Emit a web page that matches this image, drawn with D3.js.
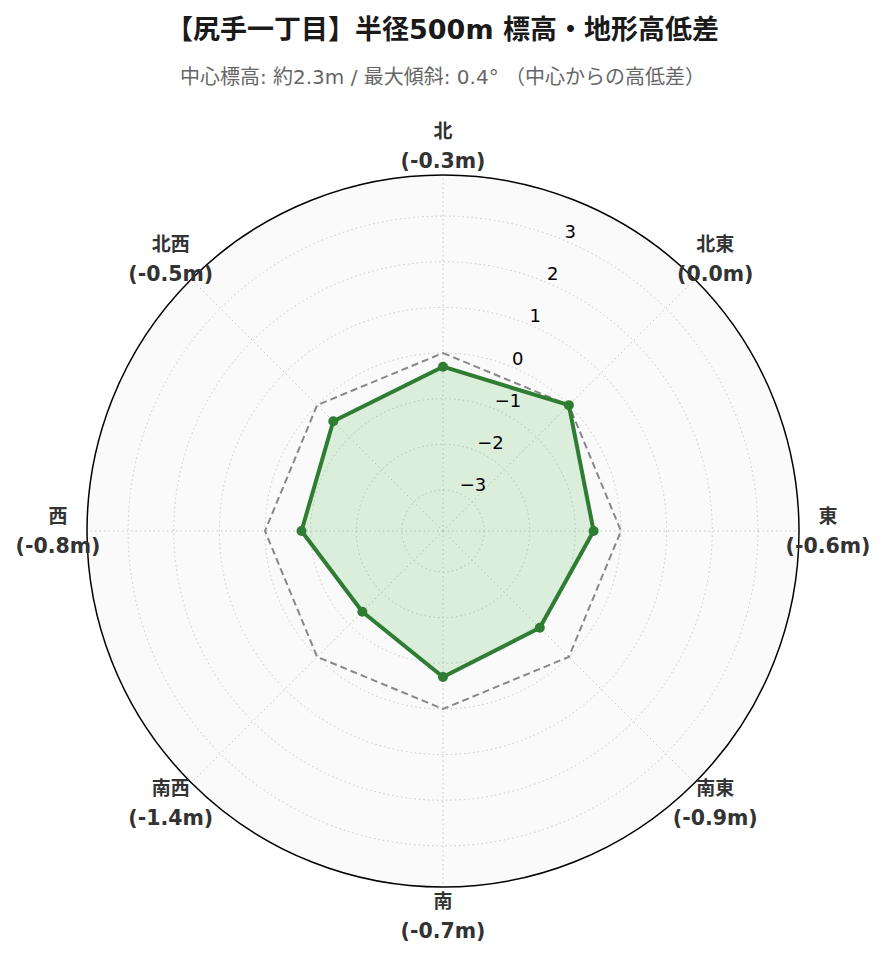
<!DOCTYPE html>
<html>
<head>
<meta charset="utf-8">
<script src="https://cdn.jsdelivr.net/npm/d3@7"></script>
<style>
  body { margin: 0; background: #fff; }
  svg { font-family: "DejaVu Sans", "Noto Sans CJK JP", sans-serif; }
</style>
</head>
<body>
<div id="chart"></div>
<script>
// directions (clockwise from north) and height diff from the centre (m)
const directions = ['北', '北東', '東', '南東', '南', '南西', '西', '北西'];
const heightDiff = [-0.3, 0.0, -0.6, -0.9, -0.7, -1.4, -0.8, -0.5];
const referenceLevel = [0, 0, 0, 0, 0, 0, 0, 0];
const radialTicks = [-3, -2, -1, 0, 1, 2, 3];

const titleText = '【尻手一丁目】半径500m 標高・地形高低差';
const subtitleText = '中心標高: 約2.3m / 最大傾斜: 0.4° （中心からの高低差）';

const drawRadar = () => {
  let width = 885;
  let height = 962;
  let cx = 443;
  let cy = 531;
  let outerR = 356;

  let svg = d3
    .select('#chart')
    .append('svg')
    .attr('width', width)
    .attr('height', height);

  // title + subtitle
  svg
    .append('text')
    .attr('x', width / 2)
    .attr('y', 39)
    .attr('text-anchor', 'middle')
    .attr('font-size', 27)
    .attr('font-weight', 'bold')
    .attr('fill', '#1a1a1a')
    .text(titleText);

  svg
    .append('text')
    .attr('x', width / 2)
    .attr('y', 84)
    .attr('text-anchor', 'middle')
    .attr('font-size', 20)
    .attr('fill', '#666')
    .text(subtitleText);

  let rScale = d3.scaleLinear().domain([-3.9, 3.9]).range([0, outerR]);
  let step = (2 * Math.PI) / directions.length;
  let angleOf = (i) => i * step;

  let g = svg.append('g').attr('transform', `translate(${cx},${cy})`);

  // polar background
  g.append('circle').attr('r', outerR).attr('fill', '#fafafa');

  // grid circles
  g.selectAll('.grid-circle')
    .data(radialTicks)
    .enter()
    .append('circle')
    .attr('class', 'grid-circle')
    .attr('r', (d) => rScale(d))
    .attr('fill', 'none')
    .attr('stroke', '#c8c8c8')
    .attr('stroke-width', 1)
    .attr('stroke-dasharray', '1.5,3');

  // spokes
  g.selectAll('.spoke')
    .data(directions)
    .enter()
    .append('line')
    .attr('class', 'spoke')
    .attr('x1', 0)
    .attr('y1', 0)
    .attr('x2', (d, i) => outerR * Math.sin(angleOf(i)))
    .attr('y2', (d, i) => -outerR * Math.cos(angleOf(i)))
    .attr('stroke', '#c8c8c8')
    .attr('stroke-width', 1)
    .attr('stroke-dasharray', '1.5,3');

  let radialLine = d3
    .lineRadial()
    .angle((d, i) => angleOf(i))
    .radius((d) => rScale(d))
    .curve(d3.curveLinearClosed);

  // data area
  g.append('path')
    .datum(heightDiff)
    .attr('d', radialLine)
    .attr('fill', '#4caf50')
    .attr('fill-opacity', 0.18)
    .attr('stroke', 'none');

  // zero reference
  g.append('path')
    .datum(referenceLevel)
    .attr('d', radialLine)
    .attr('fill', 'none')
    .attr('stroke', '#888')
    .attr('stroke-width', 2)
    .attr('stroke-dasharray', '7,4');

  g.append('path')
    .datum(heightDiff)
    .attr('d', radialLine)
    .attr('fill', 'none')
    .attr('stroke', '#2e7d32')
    .attr('stroke-width', 4)
    .attr('stroke-linejoin', 'round');

  g.selectAll('.point')
    .data(heightDiff)
    .enter()
    .append('circle')
    .attr('class', 'point')
    .attr('cx', (d, i) => rScale(d) * Math.sin(angleOf(i)))
    .attr('cy', (d, i) => -rScale(d) * Math.cos(angleOf(i)))
    .attr('r', 5)
    .attr('fill', '#2e7d32');

  // outer frame
  g.append('circle')
    .attr('r', outerR)
    .attr('fill', 'none')
    .attr('stroke', '#000')
    .attr('stroke-width', 1.5);

  // radial tick labels at 22.5deg
  let labelAngle = Math.PI / 8;
  g.selectAll('.r-label')
    .data(radialTicks)
    .enter()
    .append('text')
    .attr('class', 'r-label')
    .attr('x', (d) => rScale(d) * Math.sin(labelAngle) + 1)
    .attr('y', (d) => -rScale(d) * Math.cos(labelAngle) - 2)
    .attr('font-size', 18)
    .attr('fill', '#000')
    .text((d) => d3.format('d')(d));

  // direction labels
  let labelR = 385;
  let dirLabels = g
    .selectAll('.dir-label')
    .data(directions)
    .enter()
    .append('g')
    .attr('class', 'dir-label')
    .attr('transform', (d, i) => {
      let x = labelR * Math.sin(angleOf(i));
      let y = -labelR * Math.cos(angleOf(i));
      return `translate(${x},${y})`;
    });

  dirLabels
    .append('text')
    .attr('text-anchor', 'middle')
    .attr('y', -8)
    .attr('font-size', 19)
    .attr('font-weight', 'bold')
    .attr('fill', '#333')
    .text((d) => d);

  dirLabels
    .append('text')
    .attr('text-anchor', 'middle')
    .attr('y', 22)
    .attr('font-size', 20.5)
    .attr('font-weight', 'bold')
    .attr('fill', '#333')
    .text((d, i) => `(${heightDiff[i].toFixed(1)}m)`);
};

drawRadar();
</script>
</body>
</html>
